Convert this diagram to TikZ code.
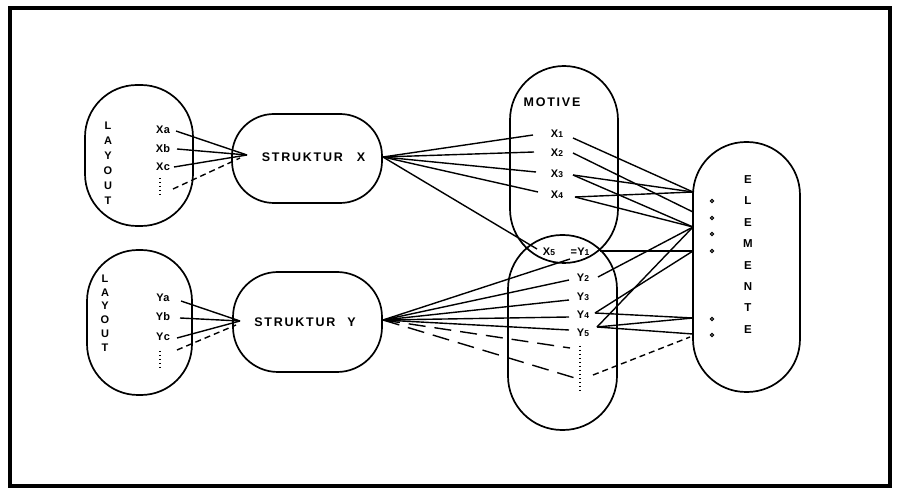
\documentclass[tikz,border=0pt]{standalone}
\usepackage{fontspec}
\setmainfont{Liberation Sans}
\newfontfamily\spaced[LetterSpace=14]{Liberation Sans}
\newfontfamily\lspaced[LetterSpace=3]{Liberation Sans}
\begin{document}
\begin{tikzpicture}[x=1pt,y=-1pt,
  shp/.style={draw, line width=1.7pt, inner sep=0pt},
  con/.style={line width=1.4pt},
  sdash/.style={con, dash pattern=on 6pt off 4pt},
  ldash/.style={con, dash pattern=on 17pt off 9pt},
  dotv/.style={line width=1.4pt, dash pattern=on 1.4pt off 2.6pt},
  lbl/.style={inner sep=0pt, font=\lspaced\bfseries\fontsize{11}{11}\selectfont},
  big/.style={inner sep=0pt, font=\spaced\bfseries\fontsize{12.5}{12.5}\selectfont},
  vert/.style={inner sep=0pt, align=center},
  pt/.style={draw, circle, minimum size=3.4pt, inner sep=0pt, line width=1pt}]
\useasboundingbox (0,0) rectangle (898,489);
% frame
\node[draw, line width=4pt, minimum width=880pt, minimum height=478pt, inner sep=0pt] (frame) at (450,247) {};

% shapes
\node[shp, rounded corners=52pt, minimum width=108pt, minimum height=141pt] (layX) at (139,155.5) {};
\node[shp, rounded corners=51pt, minimum width=105pt, minimum height=145pt] (layY) at (139.5,322.5) {};
\node[shp, rounded corners=42pt, minimum width=150pt, minimum height=89pt] (strX) at (307,158.5) {};
\node[shp, rounded corners=45pt, minimum width=149pt, minimum height=100pt] (strY) at (307.5,322) {};
\node[shp, rounded corners=54pt, minimum width=108pt, minimum height=197pt] (mot) at (564,164.5) {};
\node[shp, rounded corners=54pt, minimum width=109pt, minimum height=195pt] (motY) at (562.5,332.5) {};
\node[shp, rounded corners=53pt, minimum width=107pt, minimum height=250pt] (elem) at (746.5,267) {};

% vertical words
\node[vert, font=\bfseries\fontsize{11}{15}\selectfont] (wLX) at (108,163) {L\\A\\Y\\O\\U\\T};
\node[vert, font=\bfseries\fontsize{11}{13.8}\selectfont] (wLY) at (105,313) {L\\A\\Y\\O\\U\\T};
\node[vert, font=\bfseries\fontsize{11.5}{21.4}\selectfont] (wE) at (748,254.5) {E\\L\\E\\M\\E\\N\\T\\E};

% struktur labels
\node[big] (tSX) at (313.5,157) {STRUKTUR\hspace{14pt}X};
\node[big] (tSY) at (305,322) {STRUKTUR\hspace{12pt}Y};
\node[big] (tM) at (552,102) {MOTIVE};

% layout items
\node[lbl] (Xa) at (163,130) {Xa};
\node[lbl] (Xb) at (163,149) {Xb};
\node[lbl] (Xc) at (163,167) {Xc};
\node[lbl] (Ya) at (163,298) {Ya};
\node[lbl] (Yb) at (163,317) {Yb};
\node[lbl] (Yc) at (163,337) {Yc};
\coordinate (dXa) at (160,178); \coordinate (dXb) at (160,196);
\coordinate (dYa) at (160,351); \coordinate (dYb) at (160,369);
\draw[dotv] (dXa) -- (dXb);
\draw[dotv] (dYa) -- (dYb);

% motive items
\newcommand{\sm}[1]{{\fontsize{8.5}{8.5}\selectfont #1}}
\node[lbl] (X1) at (557,134) {X\sm{1}};
\node[lbl] (X2) at (557,153) {X\sm{2}};
\node[lbl] (X3) at (557,174) {X\sm{3}};
\node[lbl] (X4) at (557,195) {X\sm{4}};
\node[lbl] (X5) at (549,252) {X\sm{5}};
\node[lbl] (Y1) at (580,252) {=Y\sm{1}};
\node[lbl] (Y2) at (583,278) {Y\sm{2}};
\node[lbl] (Y3) at (583,297) {Y\sm{3}};
\node[lbl] (Y4) at (583,315) {Y\sm{4}};
\node[lbl] (Y5) at (583,333) {Y\sm{5}};
\coordinate (dMa) at (580,346); \coordinate (dMb) at (580,392);
\draw[dotv] (dMa) -- (dMb);

% element points
\node[pt] (p1) at (712,201) {};
\node[pt] (p2) at (712,218) {};
\node[pt] (p3) at (712,234) {};
\node[pt] (p4) at (712,251) {};
\node[pt] (p5) at (712,319) {};
\node[pt] (p6) at (712,335) {};

% convergence coordinates
\coordinate (cX) at (247,155);
\coordinate (cY) at (240,321);
\coordinate (rX) at (383,157);
\coordinate (rY) at (383,320);
\coordinate (e1) at (693,192);
\coordinate (e2) at (693,212);
\coordinate (e3) at (693,227);
\coordinate (e4) at (693,251);
\coordinate (e5) at (693,318);
\coordinate (e6) at (693,334);

% layout -> struktur
\coordinate (oXa) at (176,131); \coordinate (oXb) at (177,149);
\coordinate (oXc) at (174,167); \coordinate (oXd) at (173,189);
\coordinate (iXd) at (240,158);
\draw[con] (oXa) -- (cX);
\draw[con] (oXb) -- (cX);
\draw[con] (oXc) -- (cX);
\draw[sdash] (oXd) -- (iXd);
\coordinate (oYa) at (181,301); \coordinate (oYb) at (180,318);
\coordinate (oYc) at (177,338); \coordinate (oYd) at (177,350);
\coordinate (iYd) at (236,325);
\draw[con] (oYa) -- (cY);
\draw[con] (oYb) -- (cY);
\draw[con] (oYc) -- (cY);
\draw[sdash] (oYd) -- (iYd);

% struktur X -> motive
\coordinate (iX1) at (533,135); \coordinate (iX2) at (534,152);
\coordinate (iX3) at (536,172); \coordinate (iX4) at (538,192);
\coordinate (iX5) at (537,249);
\foreach \t in {iX1,iX2,iX3,iX4,iX5} \draw[con] (rX) -- (\t);

% struktur Y -> motive
\coordinate (iY1) at (570,259); \coordinate (iY2) at (569,280);
\coordinate (iY3) at (569,300); \coordinate (iY4) at (569,317);
\coordinate (iY5) at (569,330);
\foreach \t in {iY1,iY2,iY3,iY4,iY5} \draw[con] (rY) -- (\t);
\coordinate (iYd1) at (570,348); \coordinate (iYd2) at (575,378);
\draw[ldash] (rY) -- (iYd1);
\draw[ldash] (rY) -- (iYd2);

% motive -> elemente
\coordinate (oX1) at (573,138); \coordinate (oX2) at (573,153);
\coordinate (oX3) at (573,175); \coordinate (oX4) at (575,197);
\draw[con] (oX1) -- (e1);
\draw[con] (oX2) -- (e2);
\draw[con] (oX3) -- (e1);
\draw[con] (oX3) -- (e3);
\draw[con] (oX4) -- (e1);
\draw[con] (oX4) -- (e3);
\coordinate (oY1) at (600,251); \coordinate (oY2) at (598,277);
\coordinate (oY4) at (595,313); \coordinate (oY5) at (597,327);
\coordinate (oYdd) at (593,375); \coordinate (eD) at (690,337);
\draw[con] (oY1) -- (e4);
\draw[con] (oY2) -- (e3);
\draw[con] (oY4) -- (e4);
\draw[con] (oY4) -- (e5);
\draw[con] (oY5) -- (e3);
\draw[con] (oY5) -- (e5);
\draw[con] (oY5) -- (e6);
\draw[sdash] (oYdd) -- (eD);
\end{tikzpicture}
\end{document}
